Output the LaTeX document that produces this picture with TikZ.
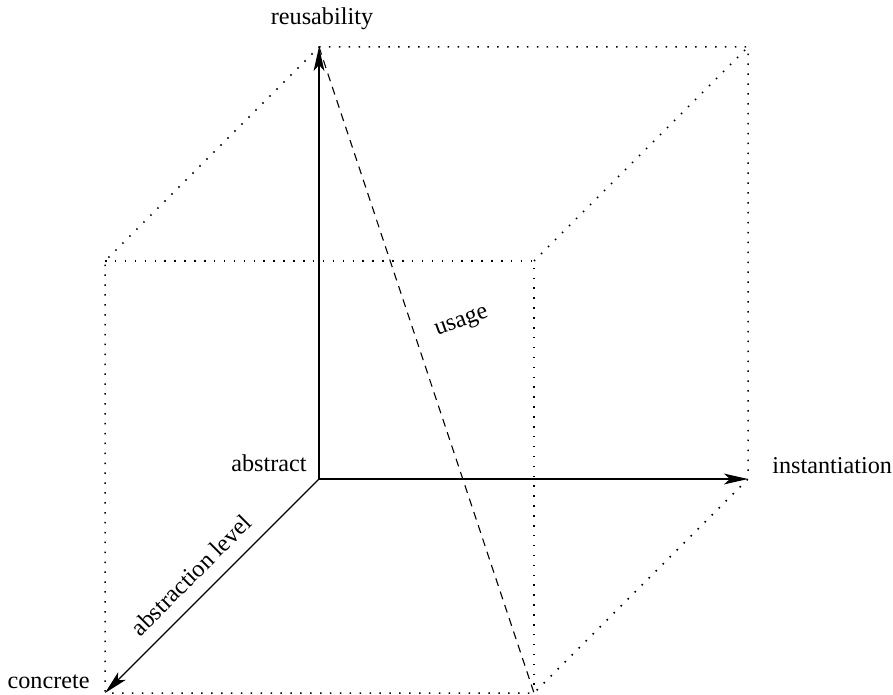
\documentclass[tikz,border=0pt]{standalone}
\usepackage{fontspec}
\setmainfont{Liberation Serif}
\usetikzlibrary{arrows.meta}
\begin{document}
\begin{tikzpicture}[x=0.5pt,y=-0.5pt,
  axis/.style={line width=0.6pt,-{Stealth[length=12pt,width=5.4pt,inset=3pt]}},
  edge/.style={line width=0.75pt,dash pattern=on 0.75pt off 4.2pt},
  diag/.style={line width=0.55pt,dash pattern=on 4pt off 3pt},
  lbl/.style={inner sep=0pt,font=\fontsize{12.1pt}{14.5pt}\selectfont}]
\useasboundingbox (0,0) rectangle (893,695);
% corners of the cube
\coordinate (O) at (319,479);
\coordinate (T) at (319,47);
\coordinate (R) at (748,479);
\coordinate (C) at (105,693);
\coordinate (BTR) at (748,47);
\coordinate (FTL) at (105,261);
\coordinate (FTR) at (534,261);
\coordinate (FBR) at (534,693);
% dotted cube edges
\draw[edge] (T) -- (BTR) -- (R) -- (FBR) -- (C) -- (FTL) -- (T);
\draw[edge] (FTL) -- (FTR) -- (FBR);
\draw[edge] (FTR) -- (BTR);
% axes
\draw[axis] (O) -- (T);
\draw[axis] (O) -- (R);
\draw[axis] (O) -- (C);
% usage diagonal
\draw[diag] (T) -- (FBR);
% labels
\node[lbl,anchor=base] (reuse) at (322,25) {reusability};
\node[lbl,anchor=base east] (abs) at (307,471) {abstract};
\node[lbl,anchor=base west] (inst) at (772,473) {instantiation};
\node[lbl,anchor=base east] (conc) at (90,688) {concrete};
\node[lbl,rotate=20] (use) at (462,323) {usage};
\node[lbl,rotate=45] (lvl) at (191,575) {abstraction level};
\end{tikzpicture}
\end{document}
